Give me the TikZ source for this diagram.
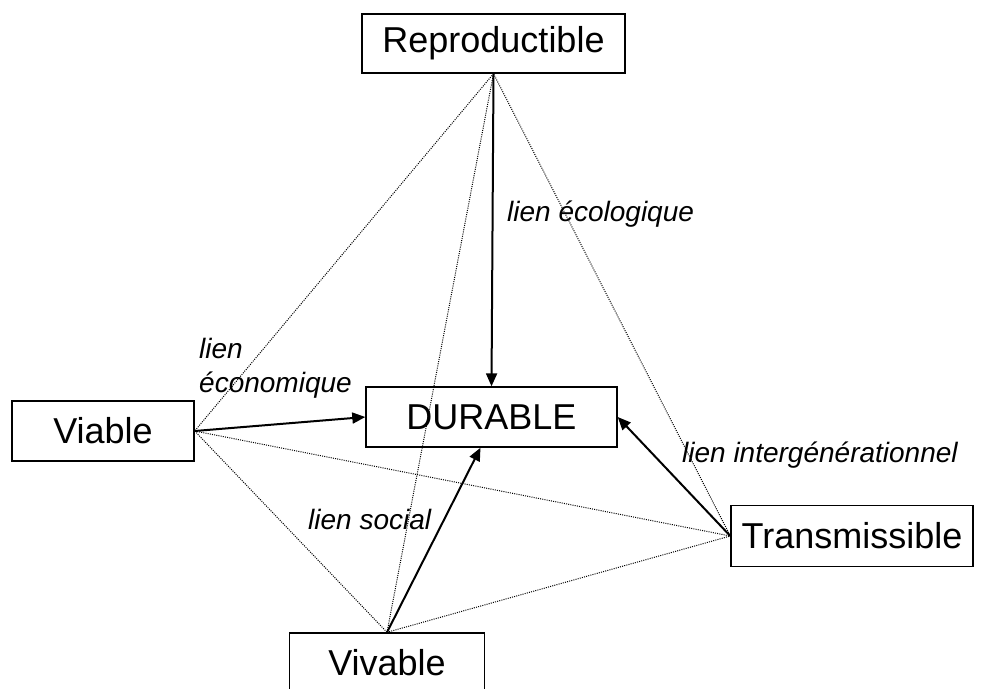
\documentclass[tikz,border=0pt]{standalone}
\usepackage{fontspec}
\setmainfont{Liberation Sans}
\usetikzlibrary{arrows.meta}
\newcommand{\boxfont}{\fontsize{36}{42}\selectfont}
\newcommand{\linkfont}{\fontsize{28}{34}\selectfont\itshape}
\newcommand{\drawlink}{\draw[line width=2pt,-{Triangle[length=13pt,width=11pt]}]}
\newcommand{\drawdotted}{\draw[line width=1pt,dash pattern=on 1pt off 1.2pt]}
\tikzset{
  pole/.style={draw,line width=1.4pt,inner sep=0pt,font=\boxfont},
  linklabel/.style={inner sep=0pt,font=\linkfont}
}

\begin{document}
\begin{tikzpicture}[x=1pt,y=-1pt]
\useasboundingbox (0,0) rectangle (982,688);
    \node[pole,minimum width=263,minimum height=59] (repro) at (493.5,43.5) {Reproductible};
    \node[pole,minimum width=251,minimum height=60] (dur) at (491.5,417) {DURABLE};
    \node[pole,minimum width=182,minimum height=60] (viab) at (103,431) {Viable};
    \node[pole,minimum width=195,minimum height=60] (viv) at (387,663) {Vivable};
    \node[pole,minimum width=242,minimum height=61] (trans) at (852,536) {Transmissible};
    \drawdotted (repro.south)--(viab.east);
    \drawdotted (repro.south)--(viv.north);
    \drawdotted (repro.south)--(trans.west);
    \drawdotted (viab.east)--(viv.north);
    \drawdotted (viab.east)--(trans.west);
    \drawdotted (viv.north)--(trans.west);
    \drawlink (repro.south)--(dur.north);
    \drawlink (viab.east)--(dur.west);
    \drawlink (viv.north)--([xshift=-11pt]dur.south);
    \drawlink (trans.west)--(dur.east);
\node[linklabel,align=left,anchor=north west] (econ) at (199,338) {lien\\économique};
\node[linklabel,anchor=base west] (ecol) at (507,221) {lien écologique};
\node[linklabel,anchor=base west] (soc) at (308,529) {lien social};
\node[linklabel,anchor=base west] (gen) at (682,462) {lien intergénérationnel};
\end{tikzpicture}
\end{document}
